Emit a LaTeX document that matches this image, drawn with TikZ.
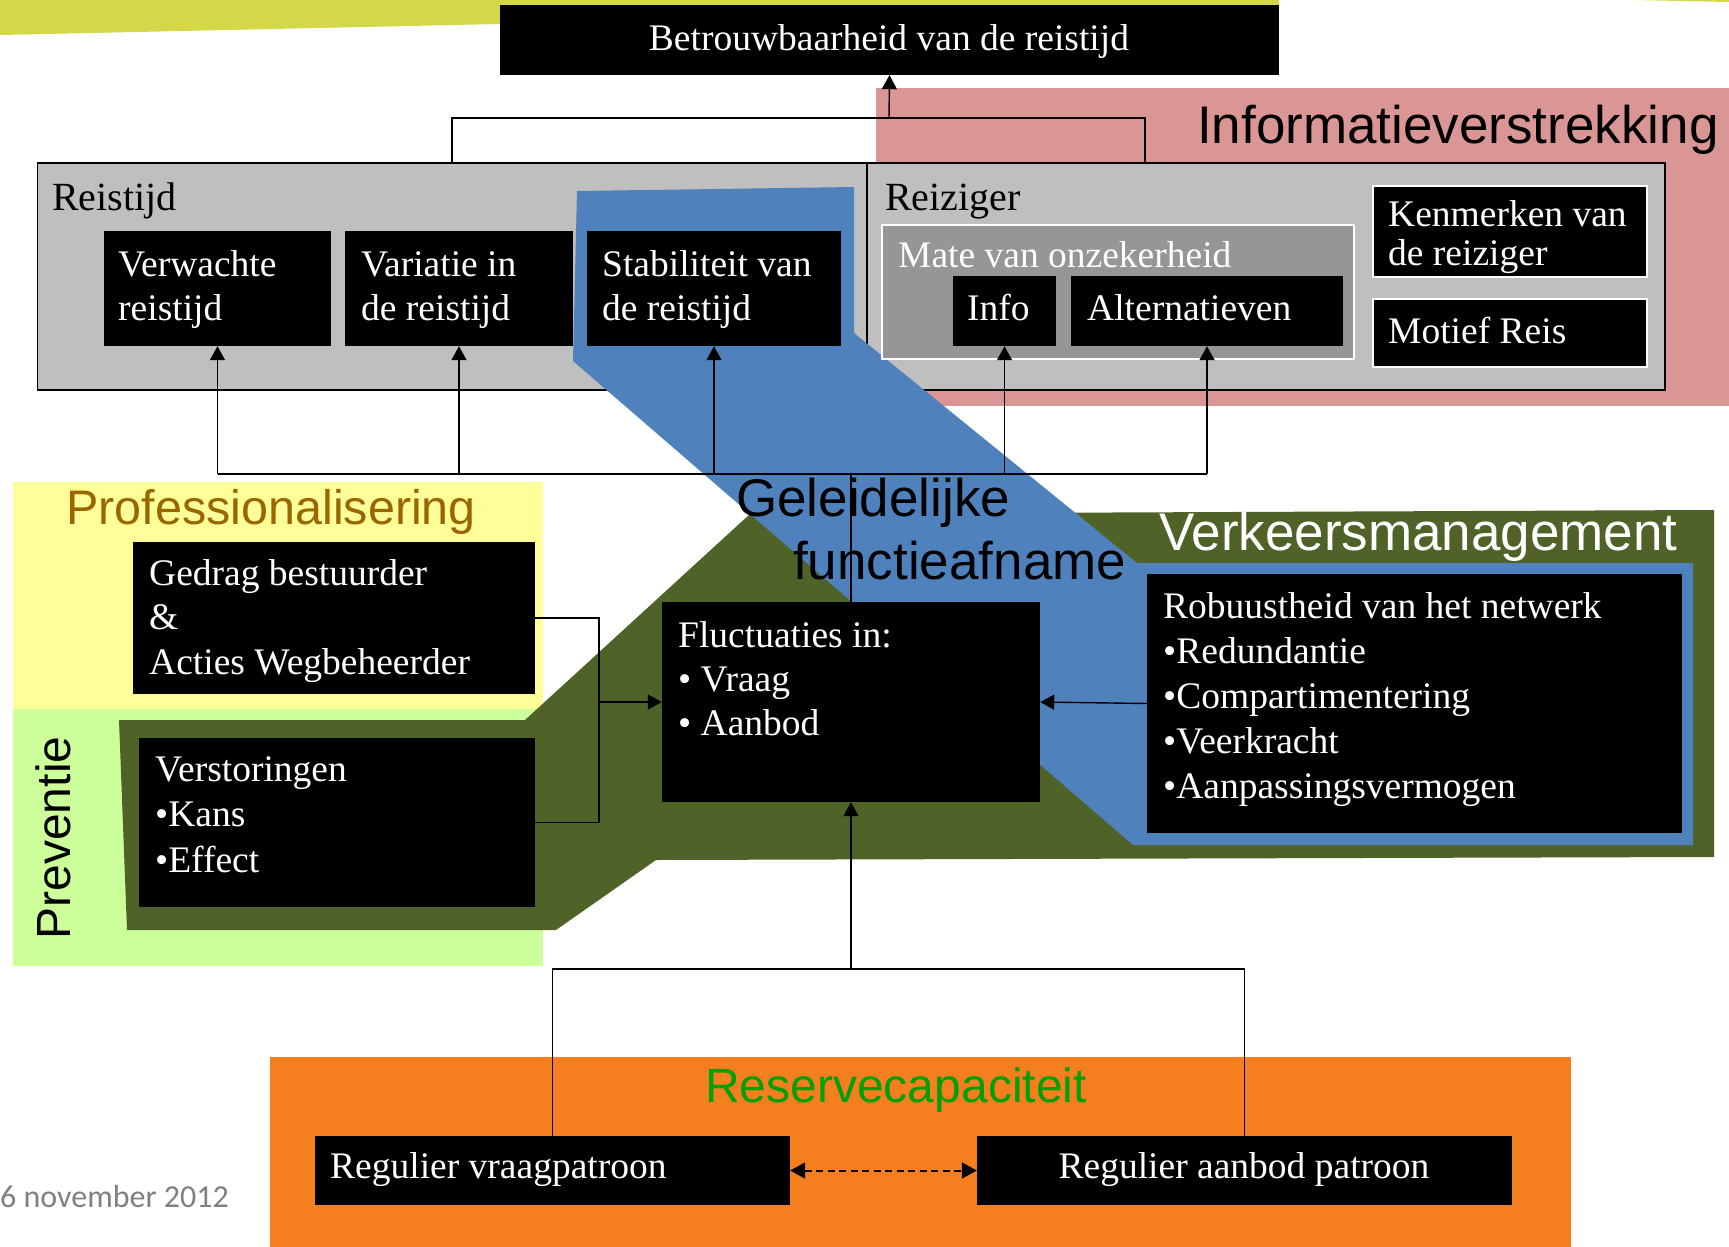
\documentclass[tikz,border=0pt]{standalone}
\usepackage{fontspec}
\setmainfont{Liberation Serif}
\newfontfamily\sansf{Liberation Sans}
\newfontfamily\carlf{Carlito}
\usetikzlibrary{arrows.meta,fit}
\definecolor{bandc}{RGB}{212,216,72}
\definecolor{pinkc}{RGB}{217,150,148}
\definecolor{grayc}{RGB}{191,191,191}
\definecolor{mategray}{RGB}{150,150,150}
\definecolor{bluec}{RGB}{79,129,189}
\definecolor{olivec}{RGB}{79,98,40}
\definecolor{yelc}{RGB}{255,255,153}
\definecolor{lgreenc}{RGB}{204,255,153}
\definecolor{orangec}{RGB}{245,127,30}
\definecolor{brownc}{RGB}{153,102,0}
\definecolor{greentc}{RGB}{0,160,0}
\definecolor{datec}{RGB}{128,128,128}
\begin{document}
\begin{tikzpicture}[x=1pt,y=-1pt,
  bbox/.style={fill=black, draw=none, inner sep=0pt},
  wbox/.style={fill=black, draw=white, line width=2pt, inner sep=0pt},
  wt/.style={text=white, font=\fontsize{37.5}{44.5}\selectfont, inner sep=0pt, anchor=base west, align=flush left, text width=560pt},
  bt/.style={text=black, font=\fontsize{40}{48}\selectfont, inner sep=0pt, anchor=base west},
  sanst/.style={inner sep=0pt, anchor=base west, font=\sansf\fontsize{53}{63}\selectfont},
  conn/.style={draw=black, line width=1.4pt},
  arr/.style={conn, -{Triangle[length=14pt,width=15pt]}},
  darr/.style={draw=black, line width=2pt, dash pattern=on 7pt off 4.5pt, {Triangle[length=15pt,width=16pt]}-{Triangle[length=15pt,width=16pt]}}
]
\useasboundingbox (0,0) rectangle (1729,1247);
% background decoration band
\fill[bandc] (0,0) -- (1279,0) -- (1279,5) -- (500,24) -- (0,35) -- cycle;
\fill[bandc] (1633,0) -- (1729,0) -- (1729,2) -- cycle;
% pink region
\fill[pinkc] (876,88) rectangle (1729,406);
% gray box
\node[fill=grayc, draw=black, line width=1.6pt, inner sep=0pt, fit={(37.5,163) (1665,390)}] (grijs) {};
\draw[black, line width=1.3pt] (867,163) -- (867,390);
% yellow and light green regions
\fill[yelc] (13,482) rectangle (543,709);
\fill[lgreenc] (13,709) rectangle (543,966);
% dark green region
\fill[olivec] (119,720) -- (525,720) -- (750,514) -- (1714,510) -- (1714,857) -- (656,860) -- (556,930) -- (127,930) -- cycle;
% blue band
\fill[bluec] (577,191) -- (854,187) -- (854,333) -- (1137,563) -- (1693,563) -- (1693,845) -- (1133,845) -- (573,361) -- cycle;
% orange region
\fill[orangec] (270,1057) rectangle (1571,1247);
% mate box
\node[fill=mategray, draw=white, line width=2pt, inner sep=0pt, fit={(882,225) (1354,359)}] (mate) {};
% black boxes
\node[bbox, fit={(500,5) (1279,75)}] (betr) {};
\node[bbox, fit={(104,231) (331,346)}] (verw) {};
\node[bbox, fit={(345,231) (573,346)}] (vari) {};
\node[bbox, fit={(587,231) (841,346)}] (stab) {};
\node[bbox, fit={(953,276) (1056,346)}] (info) {};
\node[bbox, fit={(1071,276) (1343,346)}] (alt) {};
\node[wbox, fit={(1373,186) (1647,277)}] (kenm) {};
\node[wbox, fit={(1373,299) (1647,367)}] (motief) {};
\node[bbox, fit={(133,542) (535,694)}] (gedrag) {};
\node[bbox, fit={(139,738) (535,907)}] (verst) {};
\node[bbox, fit={(662,602) (1040,802)}] (fluct) {};
\node[bbox, fit={(1147,574) (1682,833)}] (rob) {};
\node[bbox, fit={(315,1136) (790,1205)}] (vraag) {};
\node[bbox, fit={(977,1136) (1512,1205)}] (aanbod) {};
% texts
\node[wt, anchor=base, text width=, align=center] (betrT) at (889,51) {Betrouwbaarheid van de reistijd};
\node[bt] (reistT) at (52,210) {Reistijd};
\node[bt] (reizT) at (885,210) {Reiziger};
\node[wt] (verwT) at (118,276) {Verwachte\\reistijd};
\node[wt] (variT) at (361,276) {Variatie in\\de reistijd};
\node[wt] (stabT) at (602,276) {Stabiliteit van\\de reistijd};
\node[wt] (mateT) at (898,267) {Mate van onzekerheid};
\node[wt] (infoT) at (967,320) {Info};
\node[wt] (altT) at (1087,320) {Alternatieven};
\node[wt, font=\fontsize{37.5}{39.5}\selectfont] (kenmT) at (1388,226) {Kenmerken van\\de reiziger};
\node[wt] (motiefT) at (1388,343) {Motief Reis};
\node[wt] (gedragT) at (149,585) {Gedrag bestuurder\\\&\\Acties Wegbeheerder};
\node[wt, font=\fontsize{37.5}{45.5}\selectfont] (verstT) at (155,781) {Verstoringen\\•Kans\\•Effect};
\node[wt, font=\fontsize{37.5}{44}\selectfont] (fluctT) at (678,647) {Fluctuaties in:\\• Vraag\\• Aanbod};
\node[wt, font=\fontsize{37.5}{45}\selectfont] (robT) at (1163,618) {Robuustheid van het netwerk\\•Redundantie\\•Compartimentering\\•Veerkracht\\•Aanpassingsvermogen};
\node[wt] (vraagT) at (330,1178) {Regulier vraagpatroon};
\node[wt, anchor=base, text width=, align=center] (aanbodT) at (1244,1178) {Regulier aanbod patroon};
% region titles
\node[sanst] (infoverT) at (1197,143) {Informatieverstrekking};
\node[sanst, text=white, font=\sansf\fontsize{53}{60}\selectfont] (verkT) at (1159,550) {Verkeersmanagement};
\node[sanst, text=brownc, font=\sansf\fontsize{48.5}{56}\selectfont] (profT) at (66,524) {Professionalisering};
\node[sanst, anchor=base, rotate=90, font=\sansf\fontsize{48}{56}\selectfont] (prevT) at (70,838) {Preventie};
\node[sanst, align=left] (geleidT) at (736,579) {Geleidelijke\\\hspace*{57pt}functieafname};
\node[sanst, anchor=base, text=greentc, font=\sansf\fontsize{48}{56}\selectfont] (resT) at (896,1102) {Reservecapaciteit};
\node[inner sep=0pt, anchor=base west, text=datec, font=\carlf\fontsize{32}{38}\selectfont] (dateT) at (0,1207) {6 november 2012};
% connectors top
\coordinate (tL) at (452,118);
\coordinate (tR) at (1145,118);
\coordinate (tM) at (889,118);
\draw[conn] (tL |- grijs.north) -- (tL) -- (tR) -- (tR |- grijs.north);
\draw[arr] (tM) -- (betr.south);
% middle bus
\coordinate (bus) at (851,474);
\draw[conn] (fluct.north) -- (bus);
\draw[conn] (verw.south |- bus) -- (alt.south |- bus);
\draw[arr] (verw.south |- bus) -- (verw.south);
\draw[arr] (vari.south |- bus) -- (vari.south);
\draw[arr] (stab.south |- bus) -- (stab.south);
\draw[arr] (info.south |- bus) -- (info.south);
\draw[arr] (alt.south |- bus) -- (alt.south);
% left connectors
\coordinate (lbus) at (599,702);
\draw[conn] (gedrag.east) -- (gedrag.east -| lbus) -- (verst.east -| lbus) -- (verst.east);
\draw[arr] (lbus |- fluct.west) -- (fluct.west);
% right connector
\draw[arr] (rob.west) -- (fluct.east);
% bottom connectors
\coordinate (bbus) at (851,969);
\draw[arr] (bbus) -- (fluct.south);
\draw[conn] (vraag.north) -- (vraag.north |- bbus) -- (aanbod.north |- bbus) -- (aanbod.north);
\draw[darr] (vraag.east) -- (aanbod.west);
\end{tikzpicture}
\end{document}
